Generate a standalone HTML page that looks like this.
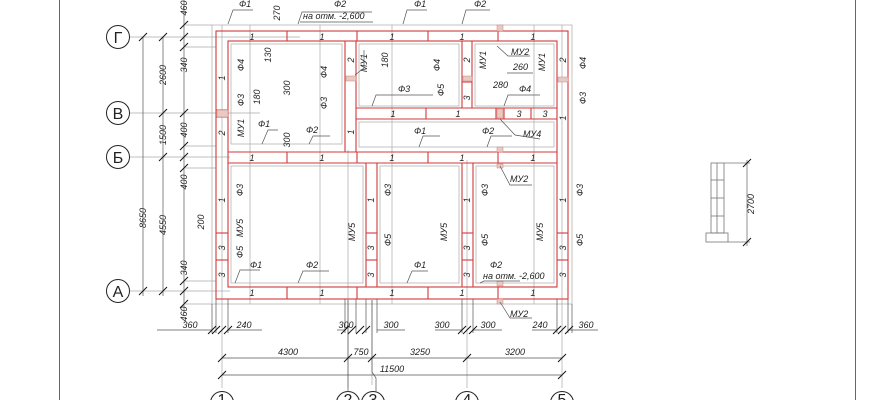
<!DOCTYPE html>
<html><head><meta charset="utf-8"><style>
html,body{margin:0;padding:0;background:#fff;width:870px;height:400px;overflow:hidden}
svg{display:block}
text{font-family:"Liberation Sans",sans-serif;font-style:italic;font-size:9px;fill:#222}
.g{stroke:#aaa;stroke-width:0.7;fill:none}
.d{stroke:#555;stroke-width:0.7;fill:none}
.r{stroke:#d23a3a;stroke-width:1.1;fill:none}
.t{stroke:#111;stroke-width:1}
.ax{font-style:normal;font-size:16px}
</style></head><body>
<svg width="870" height="400" viewBox="0 0 870 400" xmlns="http://www.w3.org/2000/svg">
<!-- frame lines -->
<line x1="59.5" y1="0" x2="59.5" y2="400" stroke="#666" stroke-width="1"/>
<line x1="855.5" y1="0" x2="855.5" y2="400" stroke="#666" stroke-width="1"/>

<!-- foundation grey outlines -->
<rect x="212" y="25" width="360" height="279" class="g"/>
<line x1="185" y1="25" x2="212" y2="25" class="g"/>
<line x1="185" y1="304" x2="212" y2="304" class="g"/>
<line x1="185" y1="47" x2="216" y2="47" class="g"/>
<line x1="185" y1="146" x2="216" y2="146" class="g"/>
<line x1="185" y1="168" x2="216" y2="168" class="g"/>
<line x1="185" y1="281" x2="216" y2="281" class="g"/>
<!-- axis horizontal lines -->
<line x1="130" y1="37" x2="300" y2="37" class="g"/>
<line x1="130" y1="113" x2="260" y2="113" class="g"/>
<line x1="130" y1="157" x2="230" y2="157" class="g"/>
<line x1="130" y1="291" x2="230" y2="291" class="g"/>
<!-- interior grey finish lines -->
<rect x="231" y="44" width="111" height="100" class="g"/>
<rect x="359" y="44" width="100" height="62" class="g"/>
<rect x="475" y="44" width="79" height="62" class="g"/>
<rect x="359" y="122" width="195" height="25" class="g"/>
<rect x="231" y="166" width="132" height="117" class="g"/>
<rect x="380" y="166" width="79" height="117" class="g"/>
<rect x="476" y="166" width="78" height="117" class="g"/>
<line x1="222" y1="25" x2="222" y2="388" class="g"/>
<line x1="348" y1="150" x2="348" y2="388" class="g"/>
<line x1="372" y1="300" x2="372" y2="385" class="g"/>
<line x1="467" y1="160" x2="467" y2="388" class="g"/>
<line x1="562" y1="25" x2="562" y2="388" class="g"/>
<line x1="250" y1="25" x2="250" y2="304" class="g"/>
<line x1="320" y1="25" x2="320" y2="304" class="g"/>
<line x1="392" y1="25" x2="392" y2="304" class="g"/>
<line x1="534" y1="25" x2="534" y2="304" class="g"/>

<!-- red walls -->
<g class="r">
<rect x="216" y="31" width="352" height="268"/>
<rect x="228" y="41" width="329" height="246"/>
<!-- Г band dividers -->
<line x1="287" y1="31" x2="287" y2="41"/><line x1="357" y1="31" x2="357" y2="41"/><line x1="428" y1="31" x2="428" y2="41"/><line x1="498" y1="31" x2="498" y2="41"/>
<!-- Б band -->
<line x1="228" y1="152" x2="557" y2="152"/><line x1="228" y1="163" x2="557" y2="163"/>
<line x1="287" y1="152" x2="287" y2="163"/><line x1="357" y1="152" x2="357" y2="163"/><line x1="428" y1="152" x2="428" y2="163"/><line x1="498" y1="152" x2="498" y2="163"/>
<!-- A band -->
<line x1="228" y1="287" x2="557" y2="287"/>
<line x1="287" y1="287" x2="287" y2="299"/><line x1="357" y1="287" x2="357" y2="299"/><line x1="428" y1="287" x2="428" y2="299"/><line x1="498" y1="287" x2="498" y2="299"/>
<!-- upper vertical walls -->
<line x1="345" y1="41" x2="345" y2="152"/><line x1="356" y1="41" x2="356" y2="152"/>
<line x1="462" y1="41" x2="462" y2="108"/><line x1="472" y1="41" x2="472" y2="108"/>
<line x1="462" y1="82" x2="472" y2="82"/>
<!-- В band -->
<line x1="356" y1="108" x2="557" y2="108"/><line x1="356" y1="119" x2="557" y2="119"/>
<line x1="426" y1="108" x2="426" y2="119"/><line x1="496" y1="108" x2="496" y2="119"/><line x1="504" y1="108" x2="504" y2="119"/><line x1="531" y1="108" x2="531" y2="119"/>
<line x1="216" y1="110" x2="228" y2="110"/><line x1="216" y1="117" x2="228" y2="117"/>
<!-- lower vertical walls -->
<line x1="366" y1="163" x2="366" y2="287"/><line x1="377" y1="163" x2="377" y2="287"/>
<line x1="462" y1="163" x2="462" y2="287"/><line x1="473" y1="163" x2="473" y2="287"/>
<line x1="216" y1="233" x2="228" y2="233"/><line x1="216" y1="260" x2="228" y2="260"/>
<line x1="366" y1="233" x2="377" y2="233"/><line x1="366" y1="260" x2="377" y2="260"/>
<line x1="462" y1="233" x2="473" y2="233"/><line x1="462" y1="260" x2="473" y2="260"/>
<line x1="557" y1="233" x2="568" y2="233"/><line x1="557" y1="260" x2="568" y2="260"/>
</g>
<!-- hatched lintels -->
<g fill="#e9c9c0" stroke="#c88" stroke-width="0.5">
<rect x="217" y="110" width="11" height="7"/>
<rect x="346" y="76" width="10" height="5"/>
<rect x="463" y="76" width="9" height="5"/>
<rect x="558" y="77" width="10" height="5"/>
<rect x="497" y="109" width="6" height="9"/>
<rect x="497" y="25" width="6" height="6"/>
<rect x="497" y="147" width="6" height="5"/>
<rect x="497" y="164" width="6" height="4"/>
<rect x="497" y="281" width="6" height="5"/>
<rect x="497" y="299" width="6" height="5"/>
</g>

<!-- band labels -->
<g text-anchor="middle">
<text x="252" y="40">1</text><text x="322" y="40">1</text><text x="392" y="40">1</text><text x="462" y="40">1</text><text x="533" y="40">1</text>
<text x="252" y="161">1</text><text x="322" y="161">1</text><text x="392" y="161">1</text><text x="462" y="161">1</text><text x="533" y="161">1</text>
<text x="252" y="296">1</text><text x="322" y="296">1</text><text x="392" y="296">1</text><text x="462" y="296">1</text><text x="533" y="296">1</text>
<text x="393" y="117">1</text><text x="458" y="117">1</text><text x="519" y="117">3</text><text x="545" y="117">3</text>
</g>
<!-- rotated labels -->
<g text-anchor="middle">
<text transform="translate(225,78) rotate(-90)">1</text>
<text transform="translate(225,133) rotate(-90)">2</text>
<text transform="translate(354,60) rotate(-90)">2</text>
<text transform="translate(354,132) rotate(-90)">1</text>
<text transform="translate(470,60) rotate(-90)">2</text>
<text transform="translate(470,98) rotate(-90)">3</text>
<text transform="translate(566,60) rotate(-90)">2</text>
<text transform="translate(566,118) rotate(-90)">1</text>
<text transform="translate(225,200) rotate(-90)">1</text><text transform="translate(225,248) rotate(-90)">3</text><text transform="translate(225,275) rotate(-90)">3</text>
<text transform="translate(374,200) rotate(-90)">1</text><text transform="translate(374,248) rotate(-90)">3</text><text transform="translate(374,275) rotate(-90)">3</text>
<text transform="translate(470,200) rotate(-90)">1</text><text transform="translate(470,248) rotate(-90)">3</text><text transform="translate(470,275) rotate(-90)">3</text>
<text transform="translate(566,200) rotate(-90)">1</text><text transform="translate(566,248) rotate(-90)">3</text><text transform="translate(566,275) rotate(-90)">3</text>

<text transform="translate(244,65) rotate(-90)">Ф4</text>
<text transform="translate(244,100) rotate(-90)">Ф3</text>
<text transform="translate(244,128) rotate(-90)">МУ1</text>
<text transform="translate(327,72) rotate(-90)">Ф4</text>
<text transform="translate(327,103) rotate(-90)">Ф3</text>
<text transform="translate(367,63) rotate(-90)">МУ1</text>
<text transform="translate(440,65) rotate(-90)">Ф4</text>
<text transform="translate(444,90) rotate(-90)">Ф5</text>
<text transform="translate(486,60) rotate(-90)">МУ1</text>
<text transform="translate(545,62) rotate(-90)">МУ1</text>
<text transform="translate(586,63) rotate(-90)">Ф4</text>
<text transform="translate(586,98) rotate(-90)">Ф3</text>
<text transform="translate(271,55) rotate(-90)">130</text>
<text transform="translate(280,13) rotate(-90)">270</text>
<text transform="translate(260,97) rotate(-90)">180</text>
<text transform="translate(290,88) rotate(-90)">300</text>
<text transform="translate(290,140) rotate(-90)">300</text>
<text transform="translate(388,60) rotate(-90)">180</text>

<text transform="translate(243,190) rotate(-90)">Ф3</text>
<text transform="translate(243,228) rotate(-90)">МУ5</text>
<text transform="translate(243,252) rotate(-90)">Ф5</text>
<text transform="translate(204,222) rotate(-90)">200</text>
<text transform="translate(355,232) rotate(-90)">МУ5</text>
<text transform="translate(391,190) rotate(-90)">Ф3</text>
<text transform="translate(391,240) rotate(-90)">Ф5</text>
<text transform="translate(447,232) rotate(-90)">МУ5</text>
<text transform="translate(488,190) rotate(-90)">Ф3</text>
<text transform="translate(488,240) rotate(-90)">Ф5</text>
<text transform="translate(543,232) rotate(-90)">МУ5</text>
<text transform="translate(583,190) rotate(-90)">Ф3</text>
<text transform="translate(583,240) rotate(-90)">Ф5</text>

<!-- left dims text -->
<text transform="translate(146,218) rotate(-90)">8650</text>
<text transform="translate(166,75) rotate(-90)">2600</text>
<text transform="translate(166,135) rotate(-90)">1500</text>
<text transform="translate(166,225) rotate(-90)">4550</text>
<text transform="translate(187,8) rotate(-90)">460</text>
<text transform="translate(187,65) rotate(-90)">340</text>
<text transform="translate(187,130) rotate(-90)">400</text>
<text transform="translate(187,182) rotate(-90)">400</text>
<text transform="translate(187,268) rotate(-90)">340</text>
<text transform="translate(187,314) rotate(-90)">460</text>
<text transform="translate(754,204) rotate(-90)">2700</text>
</g>
<!-- horizontal labels -->
<text x="239" y="7">Ф1</text>
<text x="334" y="7">Ф2</text>
<text x="303" y="19">на отм. -2,600</text>
<text x="414" y="7">Ф1</text>
<text x="474" y="7">Ф2</text>
<text x="398" y="92">Ф3</text>
<text x="511" y="55">МУ2</text>
<text x="513" y="70">260</text>
<text x="493" y="88">280</text>
<text x="519" y="92">Ф4</text>
<text x="258" y="127">Ф1</text>
<text x="306" y="133">Ф2</text>
<text x="414" y="134">Ф1</text>
<text x="482" y="134">Ф2</text>
<text x="523" y="137">МУ4</text>
<text x="510" y="182">МУ2</text>
<text x="250" y="268">Ф1</text>
<text x="306" y="268">Ф2</text>
<text x="414" y="268">Ф1</text>
<text x="490" y="268">Ф2</text>
<text x="483" y="279">на отм. -2,600</text>
<text x="510" y="317">МУ2</text>

<!-- leaders -->
<g class="d">
<polyline points="228,24 233,10 253,10"/>
<polyline points="298,24 302,12 372,12"/>
<polyline points="403,24 407,10 427,10"/>
<polyline points="462,24 466,10 490,10"/>
<line x1="300" y1="22" x2="373" y2="22"/>
<polyline points="497,46 508,56 530,56"/>
<polyline points="355,75 364,68 364,50"/>
<polyline points="372,106 376,95 433,95"/>
<polyline points="500,119 515,135 540,139"/>
<polyline points="419,147 423,136 440,136"/>
<polyline points="487,147 491,136 512,136"/>
<polyline points="262,144 268,130 278,130"/>
<polyline points="309,144 313,136 330,136"/>
<polyline points="500,166 510,185 532,185"/>
<polyline points="500,302 510,318 532,318"/>
<polyline points="235,283 240,270 260,270"/>
<polyline points="298,283 303,271 329,271"/>
<polyline points="407,283 412,271 428,271"/>
<polyline points="480,283 484,281 520,281"/>
<line x1="507" y1="73" x2="533" y2="73"/>
<polyline points="504,106 508,95 540,95"/>
</g>

<!-- left dimension lines -->
<g class="d">
<line x1="143" y1="37" x2="143" y2="296"/>
<line x1="163" y1="37" x2="163" y2="296"/>
<line x1="184" y1="0" x2="184" y2="312"/>
</g>
<g class="t">
<line x1="139" y1="41" x2="147" y2="33"/><line x1="139" y1="295" x2="147" y2="287"/>
<line x1="159" y1="41" x2="167" y2="33"/><line x1="159" y1="117" x2="167" y2="109"/><line x1="159" y1="161" x2="167" y2="153"/><line x1="159" y1="295" x2="167" y2="287"/>
<line x1="180" y1="29" x2="188" y2="21"/><line x1="180" y1="41" x2="188" y2="33"/><line x1="180" y1="51" x2="188" y2="43"/><line x1="180" y1="117" x2="188" y2="109"/><line x1="180" y1="150" x2="188" y2="142"/><line x1="180" y1="161" x2="188" y2="153"/><line x1="180" y1="172" x2="188" y2="164"/><line x1="180" y1="285" x2="188" y2="277"/><line x1="180" y1="295" x2="188" y2="287"/><line x1="180" y1="308" x2="188" y2="300"/>
</g>
<!-- axis circles left -->
<g fill="#fff" stroke="#222" stroke-width="1">
<circle cx="118" cy="37" r="11.5"/><circle cx="118" cy="113" r="11.5"/><circle cx="118" cy="157" r="11.5"/><circle cx="118" cy="291" r="11.5"/>
<circle cx="222" cy="403" r="11.5"/><circle cx="348" cy="403" r="11.5"/><circle cx="373" cy="403" r="11.5"/><circle cx="467" cy="403" r="11.5"/><circle cx="562" cy="403" r="11.5"/>
</g>
<g text-anchor="middle" class="ax">
<text class="ax" x="118" y="43">Г</text><text class="ax" x="118" y="119">В</text><text class="ax" x="118" y="163">Б</text><text class="ax" x="118" y="297">А</text>
<text class="ax" x="222" y="405">1</text><text class="ax" x="348" y="405">2</text><text class="ax" x="373" y="405">3</text><text class="ax" x="467" y="405">4</text><text class="ax" x="562" y="405">5</text>
</g>
<!-- bottom dims -->
<g class="d">
<line x1="212" y1="304" x2="212" y2="333"/><line x1="216" y1="299" x2="216" y2="333"/><line x1="228" y1="299" x2="228" y2="333"/>
<line x1="345" y1="299" x2="345" y2="333"/><line x1="356" y1="299" x2="356" y2="333"/><line x1="366" y1="299" x2="366" y2="333"/><line x1="377" y1="299" x2="377" y2="333"/>
<line x1="462" y1="299" x2="462" y2="333"/><line x1="473" y1="299" x2="473" y2="333"/>
<line x1="557" y1="299" x2="557" y2="333"/><line x1="568" y1="299" x2="568" y2="333"/><line x1="572" y1="304" x2="572" y2="333"/>
<line x1="348" y1="300" x2="348" y2="392"/><polyline points="372,300 372,372 376,378 376,392"/>
<line x1="157" y1="330" x2="212" y2="330"/><line x1="228" y1="330" x2="262" y2="330"/>
<line x1="337" y1="330" x2="345" y2="330"/><line x1="377" y1="330" x2="405" y2="330"/>
<line x1="435" y1="330" x2="462" y2="330"/><line x1="473" y1="330" x2="502" y2="330"/>
<line x1="532" y1="330" x2="557" y2="330"/><line x1="568" y1="330" x2="598" y2="330"/>
<line x1="222" y1="358" x2="562" y2="358"/>
<line x1="222" y1="375" x2="562" y2="375"/>
</g>
<g class="t">
<line x1="208" y1="334" x2="216" y2="326"/><line x1="212" y1="334" x2="220" y2="326"/><line x1="218" y1="334" x2="226" y2="326"/><line x1="224" y1="334" x2="232" y2="326"/>
<line x1="341" y1="334" x2="349" y2="326"/><line x1="348" y1="334" x2="356" y2="326"/><line x1="356" y1="334" x2="364" y2="326"/><line x1="362" y1="334" x2="370" y2="326"/>
<line x1="458" y1="334" x2="466" y2="326"/><line x1="463" y1="334" x2="471" y2="326"/><line x1="469" y1="334" x2="477" y2="326"/>
<line x1="553" y1="334" x2="561" y2="326"/><line x1="558" y1="334" x2="566" y2="326"/><line x1="565" y1="334" x2="573" y2="326"/>
<line x1="218" y1="362" x2="226" y2="354"/><line x1="344" y1="362" x2="352" y2="354"/><line x1="368" y1="362" x2="376" y2="354"/><line x1="463" y1="362" x2="471" y2="354"/><line x1="558" y1="362" x2="566" y2="354"/>
<line x1="218" y1="379" x2="226" y2="371"/><line x1="558" y1="379" x2="566" y2="371"/>
</g>
<text x="190" y="328" text-anchor="middle">360</text><text x="244" y="328" text-anchor="middle">240</text>
<text x="346" y="328" text-anchor="middle">300</text><text x="391" y="328" text-anchor="middle">300</text>
<text x="442" y="328" text-anchor="middle">300</text><text x="488" y="328" text-anchor="middle">300</text>
<text x="540" y="328" text-anchor="middle">240</text><text x="586" y="328" text-anchor="middle">360</text>
<text x="288" y="355" text-anchor="middle">4300</text><text x="361" y="355" text-anchor="middle">750</text>
<text x="420" y="355" text-anchor="middle">3250</text><text x="515" y="355" text-anchor="middle">3200</text>
<text x="392" y="372" text-anchor="middle">11500</text>

<!-- right elevation -->
<g stroke="#777" stroke-width="0.8" fill="none">
<rect x="711" y="163" width="13" height="70"/>
<line x1="711" y1="180" x2="724" y2="180"/><line x1="711" y1="198" x2="724" y2="198"/><line x1="711" y1="216" x2="724" y2="216"/>
<line x1="717" y1="163" x2="717" y2="233"/>
<rect x="706" y="233" width="22" height="9"/>
<line x1="724" y1="163" x2="750" y2="163"/><line x1="728" y1="242" x2="750" y2="242"/>
<line x1="747" y1="160" x2="747" y2="246"/>
</g>
<g class="t"><line x1="743" y1="167" x2="751" y2="159"/><line x1="743" y1="246" x2="751" y2="238"/></g>
</svg>
</body></html>
